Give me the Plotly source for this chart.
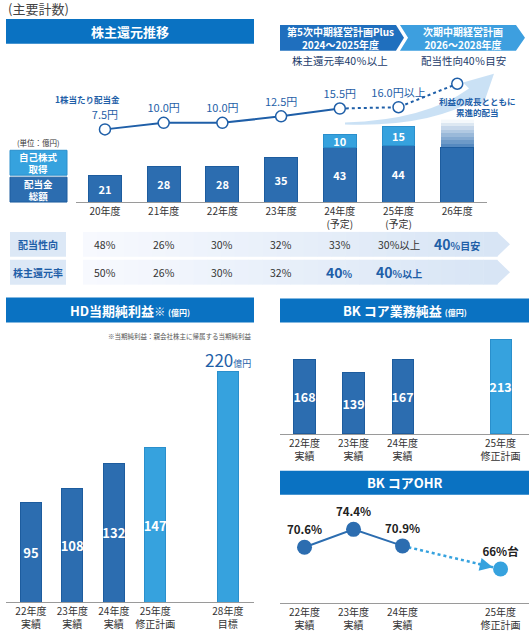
import plotly.graph_objects as go

W, H = 529, 632


def px(x):
    return x / W


def py(y):
    return 1 - y / H


def poly(points):
    return 'M ' + ' L '.join(f'{px(x):.4f},{py(y):.4f}' for x, y in points) + ' Z'


DARK = '#2c6db0'
DARK_EDGE = '#1d5c9e'
LIGHT = '#36a2de'
LIGHT_EDGE = '#2a8fcc'
HEAD = '#0a72c2'
TXT_BLUE = '#1f5fa8'
FONT = 'Noto Sans CJK JP'

# ---- 株主還元推移 ----
years_top = ['20年度', '21年度', '22年度', '23年度', '24年度', '25年度', '26年度']
year_ticks_top = ['20年度', '21年度', '22年度', '23年度', '24年度<br>(予定)', '25年度<br>(予定)', '26年度']
dividend_total = [21, 28, 28, 35, 43, 44, 43]
dividend_labels = ['21', '28', '28', '35', '43', '44', '']
buyback = [None, None, None, None, 10, 15, None]
buyback_labels = ['', '', '', '', '10', '15', '']
fade_26 = 22
dps = [7.5, 10.0, 10.0, 12.5, 15.5, 16.0, 25.0]
dps_labels = ['7.5円', '10.0円', '10.0円', '12.5円', '15.5円', '16.0円以上', '']
payout_ratio = ['48%', '26%', '30%', '32%', '33%', '30%以上', '40%目安']
payout_hl = [0, 0, 0, 0, 0, 0, 1]
return_ratio = ['50%', '26%', '30%', '32%', '40%', '40%以上', '']
return_hl = [0, 0, 0, 0, 1, 1, 0]

# ---- HD当期純利益 ----
hd_pos = [0, 1, 2, 3, 4.75]
hd_ticks = ['22年度<br>実績', '23年度<br>実績', '24年度<br>実績', '25年度<br>修正計画', '28年度<br>目標']
hd_profit = [95, 108, 132, 147, 220]
hd_plan = [0, 0, 0, 1, 1]

# ---- BK ----
bk_pos = [0, 1, 2, 4]
bk_ticks = ['22年度<br>実績', '23年度<br>実績', '24年度<br>実績', '25年度<br>修正計画']
bk_core = [168, 139, 167, 213]
ohr = [70.6, 74.4, 70.9, 66.0]
ohr_labels = ['70.6%', '74.4%', '70.9%', '66%台']

fig = go.Figure()

bar_txt = dict(textposition='inside', insidetextanchor='middle', textangle=0,
               constraintext='none', cliponaxis=False, hoverinfo='skip')

fig.add_trace(go.Bar(x=years_top, y=dividend_total, text=dividend_labels, width=0.56,
                     marker=dict(color=DARK, line=dict(color=DARK_EDGE, width=1)),
                     textfont=dict(color='white', size=11, weight='bold'), **bar_txt))
fig.add_trace(go.Bar(x=years_top, y=buyback, text=buyback_labels, width=0.56,
                     marker=dict(color=LIGHT, line=dict(color=LIGHT_EDGE, width=1)),
                     textfont=dict(color='white', size=11, weight='bold'), **bar_txt))
n_fade = 8
for k in range(n_fade):
    a = 0.85 * (1 - (k + 0.5) / n_fade)
    fig.add_trace(go.Bar(x=years_top, y=[None] * 6 + [fade_26 / n_fade], width=0.56,
                         marker=dict(color=f'rgba(44,109,176,{a:.2f})', line=dict(width=0)),
                         hoverinfo='skip'))

# 1株当たり配当金
fig.add_trace(go.Scatter(x=years_top[:5], y=dps[:5], yaxis='y2', mode='lines',
                         line=dict(color=TXT_BLUE, width=2), cliponaxis=False, hoverinfo='skip'))
fig.add_trace(go.Scatter(x=years_top[4:], y=dps[4:], yaxis='y2', mode='lines',
                         line=dict(color=TXT_BLUE, width=2, dash='dot'), cliponaxis=False, hoverinfo='skip'))
fig.add_trace(go.Scatter(x=years_top, y=dps, yaxis='y2', mode='markers+text', text=dps_labels,
                         textposition='top center', textfont=dict(color=TXT_BLUE, size=11),
                         marker=dict(color='white', size=11, line=dict(color=TXT_BLUE, width=1.5)),
                         cliponaxis=False, hoverinfo='skip'))

# HD
fig.add_trace(go.Bar(x=hd_pos, y=hd_profit, xaxis='x3', yaxis='y3', width=0.506,
                     text=[str(v) for v in hd_profit[:-1]] + [''],
                     marker=dict(color=[LIGHT if p else DARK for p in hd_plan],
                                 line=dict(color=[LIGHT_EDGE if p else DARK_EDGE for p in hd_plan], width=1)),
                     textfont=dict(color='white', size=13, weight='bold'), **bar_txt))

# BK コア業務純益
fig.add_trace(go.Bar(x=bk_pos, y=bk_core, xaxis='x4', yaxis='y4', width=0.43,
                     text=[str(v) for v in bk_core],
                     marker=dict(color=[DARK, DARK, DARK, LIGHT],
                                 line=dict(color=[DARK_EDGE, DARK_EDGE, DARK_EDGE, LIGHT_EDGE], width=1)),
                     textfont=dict(color='white', size=12.5, weight='bold'), **bar_txt))

# BK コアOHR
fig.add_trace(go.Scatter(x=bk_pos[:3], y=ohr[:3], xaxis='x5', yaxis='y5', mode='lines',
                         line=dict(color=DARK, width=2), cliponaxis=False, hoverinfo='skip'))
fig.add_trace(go.Scatter(x=bk_pos[2:], y=ohr[2:], xaxis='x5', yaxis='y5', mode='lines',
                         line=dict(color=LIGHT, width=2.5, dash='dot'), cliponaxis=False, hoverinfo='skip'))
fig.add_trace(go.Scatter(x=bk_pos, y=ohr, xaxis='x5', yaxis='y5', mode='markers+text', text=ohr_labels,
                         textposition='top center', textfont=dict(color='#222', size=11.5, weight='bold'),
                         marker=dict(color=[DARK, DARK, DARK, LIGHT], size=15, line=dict(width=0)),
                         cliponaxis=False, hoverinfo='skip'))

shapes = []
ann = []


def header(x0, y0, x1, y1, text):
    shapes.append(dict(type='rect', xref='paper', yref='paper', x0=px(x0), x1=px(x1), y0=py(y1), y1=py(y0),
                       fillcolor=HEAD, line=dict(width=0), layer='below'))
    ann.append(dict(x=px((x0 + x1) / 2), y=py((y0 + y1) / 2), text=text, showarrow=False,
                    font=dict(color='white', size=13, weight='bold')))


header(6, 19, 254, 44, '株主還元推移')
header(6, 299, 254, 324, "HD当期純利益<span style='font-size:11px'>※</span> <span style='font-size:8px'>(億円)</span>")
header(280, 300, 529, 324, "BK コア業務純益 <span style='font-size:8px'>(億円)</span>")
header(280, 473, 529, 497, 'BK コアOHR')

ann.append(dict(x=px(6), y=py(9), xanchor='left', text='(主要計数)', showarrow=False,
                font=dict(color='#444', size=13)))

# 中期経営計画 chevrons
shapes.append(dict(type='path', xref='paper', yref='paper', layer='below', line=dict(width=0), fillcolor='#1f6fbe',
                   path=poly([(280, 25), (396, 25), (404, 38), (396, 51), (280, 51)])))
shapes.append(dict(type='path', xref='paper', yref='paper', layer='below', line=dict(width=0), fillcolor='#3d9fdf',
                   path=poly([(400, 25), (516, 25), (525, 38), (516, 51), (400, 51), (408, 38)])))
ann.append(dict(x=px(340), y=py(38), text='第5次中期経営計画Plus<br>2024～2025年度', showarrow=False,
                font=dict(color='white', size=10, weight='bold')))
ann.append(dict(x=px(463), y=py(38), text='次期中期経営計画<br>2026～2028年度', showarrow=False,
                font=dict(color='white', size=10, weight='bold')))
ann.append(dict(x=px(340), y=py(61), text='株主還元率40％以上', showarrow=False,
                font=dict(color='#1a3a6a', size=10.5)))
ann.append(dict(x=px(463), y=py(61), text='配当性向40％目安', showarrow=False,
                font=dict(color='#1a3a6a', size=10.5)))

# swoosh arrow
sw = [(345, 123), (425, 121), (469, 89), (463, 83), (494, 74), (483, 106), (477, 99), (430, 128), (345, 125)]
p = [f'{px(x):.4f},{py(y):.4f}' for x, y in sw]
shapes.append(dict(type='path', xref='paper', yref='paper', layer='below', line=dict(width=0),
                   fillcolor='rgba(150,195,235,0.5)',
                   path=f'M {p[0]} Q {p[1]} {p[2]} L {p[3]} L {p[4]} L {p[5]} L {p[6]} Q {p[7]} {p[8]} Z'))
ann.append(dict(x=px(477), y=py(107), text='利益の成長とともに<br>累進的配当', showarrow=False,
                font=dict(color=TXT_BLUE, size=8.5, weight='bold')))
ann.append(dict(x=px(87), y=py(99), text='1株当たり配当金', showarrow=False,
                font=dict(color=TXT_BLUE, size=8.5, weight='bold')))

# unit + legend boxes
ann.append(dict(x=px(38), y=py(143), text='(単位：億円)', showarrow=False, font=dict(color='#333', size=7.5)))
for (y0, y1, col, edge, txt) in [(151, 176, LIGHT, LIGHT_EDGE, '自己株式<br>取得'),
                                 (178, 203, DARK, DARK_EDGE, '配当金<br>総額')]:
    shapes.append(dict(type='rect', xref='paper', yref='paper', x0=px(10), x1=px(67), y0=py(y1), y1=py(y0),
                       fillcolor=col, line=dict(color=edge, width=1), layer='below'))
    ann.append(dict(x=px(38.5), y=py((y0 + y1) / 2), text=txt, showarrow=False,
                    font=dict(color='white', size=9.5, weight='bold')))

# 配当性向 / 株主還元率 table
n_sl = 30
x_start, x_end, x_tip = 83, 497, 510
c0, c1 = (247, 249, 254), (216, 229, 245)
for (y0, y1, label, vals, hls) in [(233, 258, '配当性向', payout_ratio, payout_hl),
                                   (261, 286, '株主還元率', return_ratio, return_hl)]:
    shapes.append(dict(type='rect', xref='paper', yref='paper', x0=px(10), x1=px(66), y0=py(y1), y1=py(y0),
                       fillcolor='#dce8f6', line=dict(width=0), layer='below'))
    ann.append(dict(x=px(38), y=py((y0 + y1) / 2), text=label, showarrow=False,
                    font=dict(color=TXT_BLUE, size=10, weight='bold')))
    step = (x_end - x_start) / n_sl
    for k in range(n_sl):
        t = k / (n_sl - 1)
        col = 'rgb({},{},{})'.format(*[round(a + (b - a) * t) for a, b in zip(c0, c1)])
        shapes.append(dict(type='rect', xref='paper', yref='paper', x0=px(x_start + k * step),
                           x1=px(x_start + (k + 1) * step + 0.5), y0=py(y1), y1=py(y0),
                           fillcolor=col, line=dict(width=0), layer='below'))
    shapes.append(dict(type='path', xref='paper', yref='paper', layer='below', line=dict(width=0),
                       fillcolor='rgb({},{},{})'.format(*c1),
                       path=poly([(x_end, y0), (x_tip, (y0 + y1) / 2), (x_end, y1)])))
    for cat, v, hl in zip(years_top, vals, hls):
        if not v:
            continue
        if hl:
            txt = f"{v[:2]}<span style='font-size:10px'>{v[2:]}</span>"
            f = dict(color=TXT_BLUE, size=14, weight='bold')
        else:
            txt = v
            f = dict(color='#333', size=10.5)
        ann.append(dict(x=cat, xref='x', y=py((y0 + y1) / 2), yref='paper', text=txt, showarrow=False, font=f))

# HD note + 220 label
ann.append(dict(x=px(254), y=py(338), xanchor='right', text='※当期純利益：親会社株主に帰属する当期純利益',
                showarrow=False, font=dict(color='#555', size=6.5)))
ann.append(dict(x=hd_pos[-1], y=hd_profit[-1], xref='x3', yref='y3', yanchor='bottom', yshift=-3,
                text=f"{hd_profit[-1]}<span style='font-size:9px'>億円</span>", showarrow=False,
                font=dict(color=TXT_BLUE, size=17)))

# OHR arrow head
ann.append(dict(x=bk_pos[-1], y=ohr[-1], xref='x5', yref='y5', ax=-24, ay=-5.5, text='', showarrow=True,
                arrowhead=2, arrowsize=1.3, arrowwidth=2, arrowcolor=LIGHT, standoff=8))

for a in ann:
    a.setdefault('xref', 'paper')
    a.setdefault('yref', 'paper')
    a.setdefault('xanchor', 'center')
    a.setdefault('yanchor', 'middle')

xa = dict(showline=True, linecolor='#9a9a9a', linewidth=1, ticks='', showgrid=False, zeroline=False,
          tickfont=dict(size=10, color='#333'), fixedrange=True)
ya = dict(visible=False, fixedrange=True)

fig.update_layout(
    width=W, height=H, margin=dict(l=0, r=0, t=0, b=0),
    paper_bgcolor='white', plot_bgcolor='rgba(0,0,0,0)',
    font=dict(family=FONT), showlegend=False, hovermode=False, barmode='stack',
    xaxis=dict(domain=[px(75.6), px(486.6)], type='category', categoryorder='array', categoryarray=years_top,
               range=[-0.5, 6.5], tickvals=years_top, ticktext=year_ticks_top, anchor='y', **xa),
    yaxis=dict(domain=[py(203), py(120)], range=[0, 64.8], anchor='x', **ya),
    yaxis2=dict(domain=[py(140), py(70)], range=[3.68, 30.4], anchor='x', **ya),
    xaxis3=dict(domain=[px(6), px(254)], range=[-0.6, 5.38], tickvals=hd_pos, ticktext=hd_ticks, anchor='y3', **xa),
    yaxis3=dict(domain=[py(605), py(350)], range=[0, 241.9], anchor='x3', **ya),
    xaxis4=dict(domain=[px(280), 1], range=[-0.5, 4.58], tickvals=bk_pos, ticktext=bk_ticks, anchor='y4', **xa),
    yaxis4=dict(domain=[py(436), py(335)], range=[0, 226.5], anchor='x4', **ya),
    xaxis5=dict(domain=[px(280), 1], range=[-0.5, 4.58], tickvals=bk_pos, ticktext=bk_ticks, anchor='y5', **xa),
    yaxis5=dict(domain=[py(606), py(500)], range=[58.8, 81.1], anchor='x5', **ya),
    shapes=shapes, annotations=ann,
)

fig.write_html('out.html', config={'displayModeBar': False},
               post_script="document.body.style.margin='0';document.body.style.overflow='hidden';")
